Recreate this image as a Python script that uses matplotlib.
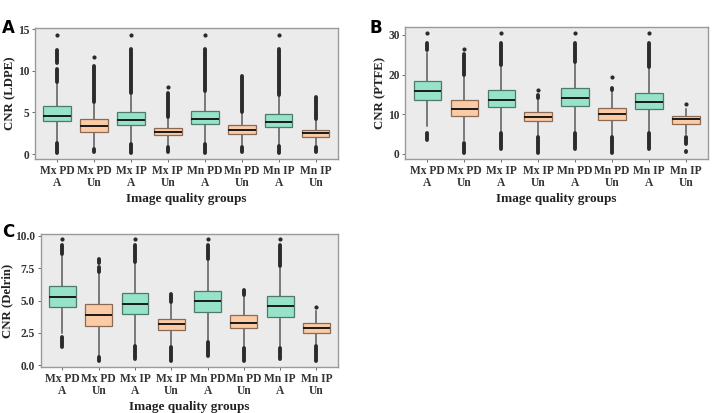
import matplotlib
matplotlib.use("Agg")
import matplotlib.pyplot as plt

plt.rcParams['font.family'] = ['Liberation Serif', 'DejaVu Serif']

groups = ['Mx PD\nA', 'Mx PD\nUn', 'Mx IP\nA', 'Mx IP\nUn',
          'Mn PD\nA', 'Mn PD\nUn', 'Mn IP\nA', 'Mn IP\nUn']

# ---- panel A : CNR (LDPE)
ldpe_q1 = [4.0, 2.7, 3.5, 2.25, 3.6, 2.35, 3.3, 2.1]
ldpe_med = [4.6, 3.4, 4.1, 2.65, 4.25, 2.85, 3.9, 2.5]
ldpe_q3 = [5.8, 4.2, 5.0, 3.1, 5.2, 3.5, 4.8, 2.9]
ldpe_wlo = [1.4, 0.7, 1.3, 1.0, 1.3, 0.9, 1.1, 0.9]
ldpe_whi = [8.5, 6.2, 7.2, 4.4, 7.5, 5.0, 7.0, 4.1]
# outlier runs (lo, hi); lo == hi is a single point
ldpe_out = [
    [(0.1, 1.3), (8.7, 10.2), (10.9, 12.5), (14.3, 14.3)],
    [(0.2, 0.6), (6.3, 10.6), (11.7, 11.7)],
    [(0.1, 1.2), (7.3, 12.6), (14.3, 14.3)],
    [(0.2, 0.9), (4.5, 7.3), (8.0, 8.0)],
    [(0.1, 1.2), (7.6, 12.6), (14.3, 14.3)],
    [(0.2, 0.8), (5.1, 9.4)],
    [(0.1, 1.0), (7.1, 12.6), (14.3, 14.3)],
    [(0.2, 0.8), (4.2, 6.9)],
]

# ---- panel B : CNR (PTFE)
ptfe_q1 = [13.6, 9.6, 11.9, 8.2, 12.1, 8.5, 11.2, 7.6]
ptfe_med = [15.9, 11.4, 13.7, 9.4, 14.2, 10.0, 13.2, 8.7]
ptfe_q3 = [18.4, 13.6, 16.1, 10.6, 16.5, 11.5, 15.4, 9.5]
ptfe_wlo = [7.0, 3.4, 5.6, 4.6, 5.6, 4.5, 5.2, 5.0]
ptfe_whi = [25.5, 19.8, 22.4, 14.0, 23.0, 15.8, 21.6, 11.4]
ptfe_out = [
    [(3.6, 5.2), (26.2, 28.0), (30.4, 30.4)],
    [(0.1, 2.7), (20.0, 25.3), (26.5, 26.5)],
    [(1.3, 5.3), (22.5, 28.0), (30.4, 30.4)],
    [(0.3, 4.2), (14.2, 14.8), (16.2, 16.2)],
    [(1.3, 5.3), (23.2, 28.0), (30.4, 30.4)],
    [(0.1, 4.2), (16.2, 16.7), (19.5, 19.5)],
    [(1.3, 5.2), (21.8, 28.0), (30.4, 30.4)],
    [(0.4, 0.8), (2.4, 4.3), (12.5, 12.5)],
]

# ---- panel C : CNR (Delrin)
delrin_q1 = [4.5, 3.07, 3.97, 2.7, 4.15, 2.86, 3.74, 2.5]
delrin_med = [5.28, 3.87, 4.74, 3.17, 4.95, 3.3, 4.54, 2.9]
delrin_q3 = [6.1, 4.7, 5.55, 3.56, 5.72, 3.87, 5.36, 3.25]
delrin_wlo = [2.5, 0.7, 1.6, 1.5, 1.9, 1.4, 1.4, 1.6]
delrin_whi = [8.5, 7.1, 7.9, 4.85, 8.1, 5.3, 7.6, 4.2]
delrin_out = [
    [(1.4, 2.2), (8.6, 9.3), (9.75, 9.75)],
    [(0.3, 0.6), (7.2, 7.6), (7.9, 8.2)],
    [(0.5, 1.5), (8.0, 9.3), (9.75, 9.75)],
    [(0.3, 1.4), (4.9, 5.5)],
    [(0.7, 1.8), (8.2, 9.3), (9.75, 9.75)],
    [(0.3, 1.3), (5.4, 5.8)],
    [(0.5, 1.3), (7.7, 9.3), (9.75, 9.75)],
    [(0.3, 1.5), (4.5, 4.5)],
]

box_colors = ['#96E3C9', '#FBCBA6'] * 4
edge_colors = ['#4E7A6C', '#8A6A55'] * 4
dot_col = '#2b2b2b'
line_col = '#5a5a5a'

fig = plt.figure(figsize=(7.12, 4.13), dpi=100)
fig.patch.set_facecolor('white')


def panel(rect, q1, med, q3, wlo, whi, outs, ylabel, ylim, yticks, yticklabels, letter, lpos):
    ax = fig.add_axes(rect)
    ax.set_facecolor('#EBEBEB')
    stats = []
    for i in range(len(groups)):
        stats.append(dict(q1=q1[i], med=med[i], q3=q3[i], whislo=wlo[i], whishi=whi[i],
                          fliers=[], label=groups[i]))
    pos = list(range(1, len(groups) + 1))
    bp = ax.bxp(stats, positions=pos, widths=0.74, patch_artist=True, showcaps=False,
                showfliers=False,
                whiskerprops=dict(color=line_col, lw=1.1),
                medianprops=dict(color='#1a1a1a', lw=1.4))
    for i, b in enumerate(bp['boxes']):
        b.set_facecolor(box_colors[i])
        b.set_edgecolor(edge_colors[i])
        b.set_linewidth(0.9)
        b.set_zorder(3)
    for m in bp['medians']:
        m.set_zorder(4)
    for i, runs in enumerate(outs):
        for lo, hi in runs:
            if lo == hi:
                ax.plot([pos[i]], [lo], 'o', ms=3.0, color=dot_col, mec='none', zorder=5)
            else:
                ax.plot([pos[i], pos[i]], [lo, hi], color=dot_col, lw=2.8,
                        solid_capstyle='round', zorder=5)
    ax.set_xlim(0.4, 8.6)
    ax.set_ylim(*ylim)
    ax.set_yticks(yticks)
    ax.set_yticklabels(yticklabels, fontsize=8.3, fontweight='bold', color='#333333')
    ax.set_xticks(pos)
    ax.set_xticklabels(groups, fontsize=8.3, fontweight='bold', color='#333333', linespacing=1.0)
    ax.tick_params(axis='both', length=2.5, width=0.6, color='#555555', pad=1.5)
    for s in ax.spines.values():
        s.set_color('#9a9a9a')
        s.set_linewidth(1.0)
    ax.set_ylabel(ylabel, fontsize=9.2, fontweight='bold', color='#222222', labelpad=1)
    ax.set_xlabel('Image quality groups', fontsize=9.5, fontweight='bold', color='#222222',
                  labelpad=3)
    fig.text(lpos[0], lpos[1], letter, fontsize=12, fontweight='bold',
             family='DejaVu Sans', ha='left', va='top')
    return ax


panel([0.049, 0.615, 0.4256, 0.317], ldpe_q1, ldpe_med, ldpe_q3, ldpe_wlo, ldpe_whi,
      ldpe_out, 'CNR (LDPE)', (-0.6, 15.12), [0, 5, 10, 15], ['0', '5', '10', '15'],
      'A', (0.003, 0.955))
panel([0.569, 0.615, 0.4256, 0.3196], ptfe_q1, ptfe_med, ptfe_q3, ptfe_wlo, ptfe_whi,
      ptfe_out, 'CNR (PTFE)', (-1.3, 32.0), [0, 10, 20, 30], ['0', '10', '20', '30'],
      'B', (0.519, 0.955))
panel([0.057, 0.111, 0.418, 0.322], delrin_q1, delrin_med, delrin_q3, delrin_wlo, delrin_whi,
      delrin_out, 'CNR (Delrin)', (-0.15, 10.13), [0, 2.5, 5, 7.5, 10],
      ['0.0', '2.5', '5.0', '7.5', '10.0'], 'C', (0.003, 0.46))

fig.savefig('out.png', dpi=100)
